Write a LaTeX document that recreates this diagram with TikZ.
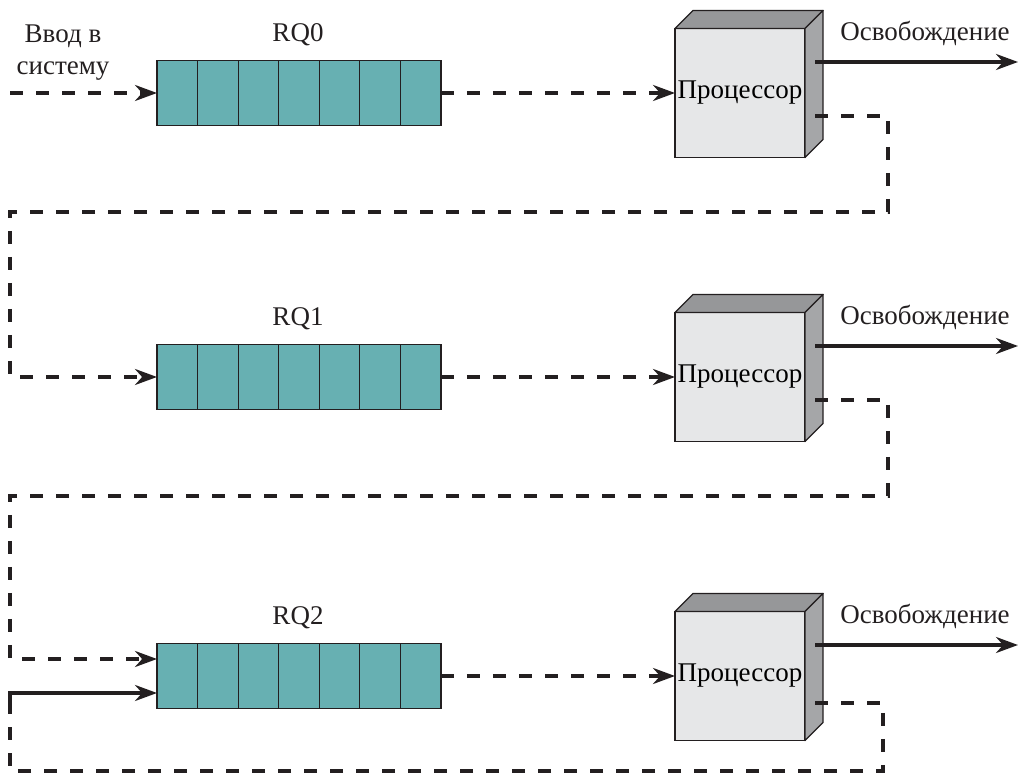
\documentclass[tikz,border=0pt]{standalone}
\usepackage{fontspec}
\setmainfont{Liberation Serif}
\usetikzlibrary{arrows.meta,positioning,calc}
\newcommand{\lbl}{\fontsize{13.5}{16}\selectfont}
\definecolor{qteal}{RGB}{103,176,178}
\definecolor{pfront}{RGB}{230,231,232}
\definecolor{pside}{RGB}{165,166,168}
\definecolor{ptop}{RGB}{150,151,153}
\definecolor{inkgray}{RGB}{35,31,32}
\tikzset{
  cell/.style={draw=inkgray, fill=qteal, line width=0.6pt, minimum width=20.29pt,
               minimum height=32.5pt, inner sep=0pt, outer sep=0pt},
  procfront/.style={draw=inkgray, fill=pfront, line width=0.7pt, minimum width=65pt,
                    minimum height=64.5pt, inner sep=0pt, outer sep=0pt, font=\lbl},
  facet/.style={draw=inkgray, line width=0.7pt, line join=round},
  flow/.style={-{Stealth[length=11pt,width=8pt]}, line width=1.7pt, draw=inkgray},
  dashflow/.style={flow, dash pattern=on 6.5pt off 6.5pt},
  loopback/.style={line width=1.7pt, draw=inkgray, dash pattern=on 6.5pt off 6.5pt},
  lbl/.style={font=\lbl, align=center, inner sep=1pt, text=inkgray},
}

\begin{document}
\begin{tikzpicture}[x=0.5pt, y=-0.5pt]
\useasboundingbox (0,0) rectangle (1018,774);

% ============================ three levels ============================
\foreach \r/\yy in {0/93, 1/377, 2/676} {
  % ready queue RQ\r
  \foreach \c in {1,...,7}
    \node[cell] (q\r-\c) at ({157+40.57*(\c-0.5)},\yy) {};
  \node[lbl] (rq\r) at (298,\yy-58) {RQ\r};

  % processor as a box
  \node[procfront] (p\r) at (740,\yy) {Процессор};
  \filldraw[facet, fill=ptop] (p\r.north west) -- ++(9pt,9pt) -- ++(65pt,0)
    -- (p\r.north east) -- cycle;
  \filldraw[facet, fill=pside] (p\r.north east) -- ++(9pt,9pt) -- ++(0,-64.5pt)
    -- (p\r.south east) -- cycle;

  \draw[dashflow] (q\r-7.east) -- (p\r.west);

  % release
  \coordinate (rel\r) at (1018,\yy-31);
  \draw[flow] ($(p\r.east |- rel\r)+(5pt,0)$) -- (rel\r);
  \node[lbl] (rl\r) at (925,\yy-60) {Освобождение};
}

% entry into the system
\node[lbl] (entry) at (63,53) {Ввод в\\систему};
\coordinate (in0) at (10,93);
\draw[dashflow] (in0) -- (q0-1.west);

% feedback to the next level
\coordinate (turn0) at (10,212);
\draw[dashflow] ($(p0.east)+(5pt,-11.5pt)$) -- ++(36.5pt,0) |- (turn0) |- (q1-1.west);

\coordinate (turn1) at (10,496);
\draw[dashflow] ($(p1.east)+(5pt,-11.5pt)$) -- ++(36.5pt,0) |- (turn1)
  |- ($(q2-1.west)+(0,8.5pt)$);

% last level loops back onto itself
\coordinate (turn2) at (10,771);
\coordinate (entry2) at (10,701);
\draw[loopback] ($(p2.east)+(5pt,-13.5pt)$) -- ++(34pt,0) |- (turn2) -- (entry2);
\draw[flow] (entry2) |- ($(q2-1.west)+(0,-8.5pt)$);

\end{tikzpicture}
\end{document}
